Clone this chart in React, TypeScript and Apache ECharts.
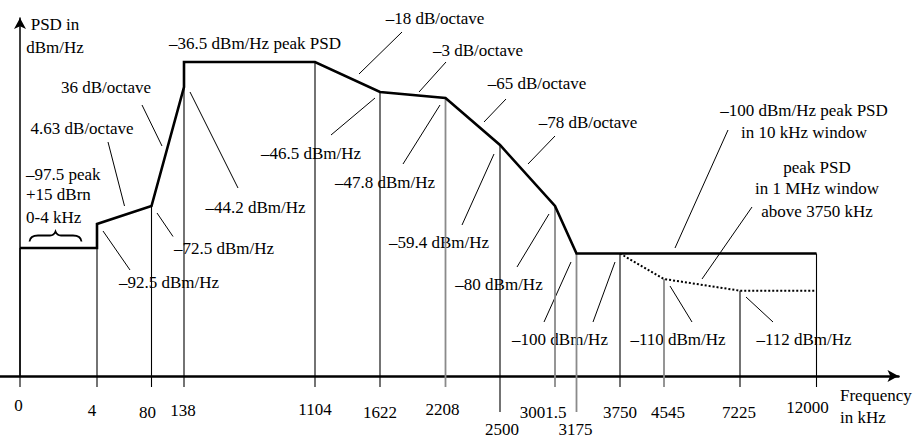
import React, { useEffect, useRef } from 'react';
import * as echarts from 'echarts';

// ---- data ----
const freqLabels = ['0', '4', '80', '138', '1104', '1622', '2208', '2500', '3001.5', '3175', '3750', '4545', '7225', '12000'];
// schematic (not-to-scale) horizontal place of each breakpoint frequency
const freqPositions = [0, 77, 131.5, 164, 295, 360, 425.5, 480, 535, 556.5, 600, 644, 720, 796.5];

// main PSD mask: breakpoint (index into freqLabels), PSD in dBm/Hz, schematic height
const maskFreqIndex = [0, 1, 1, 2, 3, 3, 4, 5, 6, 7, 8, 9, 13];
const maskPsd = [-97.5, -97.5, -92.5, -72.5, -44.2, -36.5, -36.5, -46.5, -47.8, -59.4, -80, -100, -100];
const maskHeight = [128, 128, 152, 170, 289, 314, 314, 284, 278, 231, 170, 122.5, 122.5];

// peak PSD in 1 MHz window above 3750 kHz
const windowFreqIndex = [10, 11, 12, 13];
const windowPsd = [-100, -110, -112, -112];
const windowHeight = [122.5, 97, 85.3, 85.3];

const slopes = [4.63, 36, -18, -3, -65, -78]; // dB/octave

// ---- layout helpers (not data) ----
const longTick = [7, 9];
const grayLine = [6, 8, 9, 11];
const labelDx = [-1.5, -5, -4, -1, 0, 0, -3, 2, -12, -1, 0, 4, -1, -9];
const labelDy = [29, 34, 36, 34, 33, 36, 33, 53, 36, 53, 36, 36, 36, 31];

const FONT = '"Liberation Serif", "Times New Roman", serif';
const FS = 17;

const braceD =
  'M29.5 241.5 C30 237 33 235.5 38 235.5 L50 235.5 C53 235.5 54.5 234 55.5 231.5 C56.5 234 58 235.5 61 235.5 L73 235.5 C78 235.5 81 237 81.5 241.5';
echarts.graphic.registerShape('brace', echarts.graphic.extendPath(braceD, {}));

const dbm = (v: number) => '\u2013' + Math.abs(v);
const slope = (v: number) => (v < 0 ? '\u2013' + Math.abs(v) : String(v)) + ' dB/octave';

function buildOption() {
  const dropTop = freqLabels.map((_, i) => {
    let m = 0;
    maskFreqIndex.forEach((f, k) => {
      if (f === i) m = Math.max(m, maskHeight[k]);
    });
    windowFreqIndex.forEach((f, k) => {
      if (f === i) m = Math.max(m, windowHeight[k]);
    });
    return m;
  });

  const txt = (text: string, x: number, y: number, align: string = 'center') => ({
    type: 'text',
    x,
    y,
    silent: true,
    style: { text, fill: '#000', fontSize: FS, fontFamily: FONT, align, verticalAlign: 'middle' },
  });
  const lead = (x1: number, y1: number, x2: number, y2: number) => ({
    type: 'line',
    silent: true,
    shape: { x1, y1, x2, y2 },
    style: { stroke: '#000', lineWidth: 1 },
  });

  const graphics: any[] = [
    txt('PSD in', 55, 24),
    txt('dBm/Hz', 55, 47),
    txt(`${dbm(maskPsd[5])} dBm/Hz peak PSD`, 255, 43),
    txt(slope(slopes[1]), 106, 87),
    lead(142, 105, 162, 146),
    txt(slope(slopes[0]), 82, 128),
    lead(108, 142, 124.5, 206),
    txt(`${dbm(maskPsd[0])} peak`, 26, 174, 'left'),
    txt('+15 dBrn', 26, 194, 'left'),
    txt('0-4 kHz', 26, 217, 'left'),
    { type: 'brace', silent: true, style: { stroke: '#000', fill: 'none', lineWidth: 1.8 } },
    txt(`${dbm(maskPsd[3])} dBm/Hz`, 224, 248),
    lead(157, 213, 173, 236.5),
    txt(`${dbm(maskPsd[2])} dBm/Hz`, 169, 282),
    lead(103, 231, 130, 270),
    txt(`${dbm(maskPsd[4])} dBm/Hz`, 255.5, 207),
    lead(190, 92, 238, 188),
    txt(`${dbm(maskPsd[7])} dBm/Hz`, 311, 153),
    lead(331, 135, 375, 98),
    txt(slope(slopes[2]), 435, 18),
    lead(402, 32, 359, 74),
    txt(slope(slopes[3]), 478, 50),
    lead(446, 62, 419, 92),
    txt(`${dbm(maskPsd[8])} dBm/Hz`, 385, 182),
    lead(440, 105, 403, 164),
    txt(slope(slopes[4]), 537, 83),
    lead(506, 99, 484, 122),
    txt(slope(slopes[5]), 588, 122),
    lead(555, 136, 528, 164),
    txt(`${dbm(maskPsd[9])} dBm/Hz`, 439, 242),
    lead(494, 154, 462, 225),
    txt(`${dbm(maskPsd[10])} dBm/Hz`, 499, 284),
    lead(549, 214, 517, 267),
    txt(`${dbm(maskPsd[11])} dBm/Hz`, 560, 339),
    lead(571, 262, 544, 322),
    lead(615, 262, 593, 322),
    txt(`${dbm(windowPsd[1])} dBm/Hz`, 678, 339),
    lead(670, 286, 692, 322),
    txt(`${dbm(windowPsd[2])} dBm/Hz`, 804, 339),
    lead(746, 297, 773, 322),
    txt(`${dbm(maskPsd[12])} dBm/Hz peak PSD`, 804, 110),
    txt('in 10 kHz window', 804, 132),
    lead(728, 130, 675, 248),
    txt('peak PSD', 817, 167),
    txt('in 1 MHz window', 817, 188),
    txt(`above ${freqLabels[10]} kHz`, 817, 211),
    lead(752, 207, 702, 279),
    txt('Frequency', 840, 395, 'left'),
    txt('in kHz', 840, 417, 'left'),
  ];

  return {
    animation: false,
    grid: { left: 0, right: 23.5, top: 18, bottom: 62 },
    xAxis: {
      type: 'value',
      min: -20,
      max: 878.5,
      axisLine: {
        show: true,
        onZero: true,
        symbol: ['none', 'arrow'],
        symbolSize: [9, 11],
        lineStyle: { color: '#000', width: 2.5 },
      },
      axisTick: { show: false },
      axisLabel: { show: false },
      splitLine: { show: false },
    },
    yAxis: {
      type: 'value',
      min: 0,
      max: 358,
      axisLine: {
        show: true,
        onZero: true,
        symbol: ['none', 'arrow'],
        symbolSize: [9, 11],
        lineStyle: { color: '#000', width: 1.5 },
      },
      axisTick: { show: false },
      axisLabel: { show: false },
      splitLine: { show: false },
    },
    graphic: graphics,
    series: [
      {
        type: 'custom',
        name: 'drops',
        clip: false,
        silent: true,
        z: 1,
        encode: { x: 0, y: 1 },
        data: freqPositions.map((p, i) => [
          p,
          dropTop[i],
          longTick.includes(i) ? -36 : -11,
          grayLine.includes(i) ? 1 : 0,
        ]),
        renderItem: (params: any, api: any) => {
          const x = api.value(0);
          const a = api.coord([x, api.value(1)]);
          const b = api.coord([x, api.value(2)]);
          const g = api.value(3) === 1;
          return {
            type: 'line',
            shape: { x1: a[0], y1: a[1], x2: b[0], y2: b[1] },
            style: { stroke: g ? '#8a8a8a' : '#000', lineWidth: g ? 1.8 : 1.1 },
          };
        },
      },
      {
        type: 'custom',
        name: 'freqLabels',
        clip: false,
        silent: true,
        z: 2,
        encode: { x: 0, y: 1 },
        data: freqPositions.map((p) => [p, 0]),
        renderItem: (params: any, api: any) => {
          const i = params.dataIndex;
          const c = api.coord([api.value(0), 0]);
          return {
            type: 'text',
            x: c[0] + labelDx[i],
            y: c[1] + labelDy[i],
            style: {
              text: freqLabels[i],
              fill: '#000',
              fontSize: FS,
              fontFamily: FONT,
              align: 'center',
              verticalAlign: 'middle',
            },
          };
        },
      },
      {
        type: 'line',
        name: 'mask',
        symbol: 'none',
        silent: true,
        z: 3,
        data: maskFreqIndex.map((f, k) => [freqPositions[f], maskHeight[k]]),
        lineStyle: { color: '#000', width: 2.6, cap: 'butt', join: 'miter' },
      },
      {
        type: 'line',
        name: 'window',
        symbol: 'none',
        silent: true,
        z: 3,
        data: windowFreqIndex.map((f, k) => [freqPositions[f], windowHeight[k]]),
        lineStyle: { color: '#000', width: 2, type: [2, 2] },
      },
    ],
  };
}

export default function App() {
  const ref = useRef<HTMLDivElement>(null);
  useEffect(() => {
    if (!ref.current) return;
    const chart = echarts.init(ref.current, null, { renderer: 'svg' });
    chart.setOption(buildOption() as any);
    return () => chart.dispose();
  }, []);
  return (
    <div
      ref={ref}
      style={{ position: 'fixed', left: 0, top: 0, width: 922, height: 438, background: '#fff' }}
    />
  );
}
